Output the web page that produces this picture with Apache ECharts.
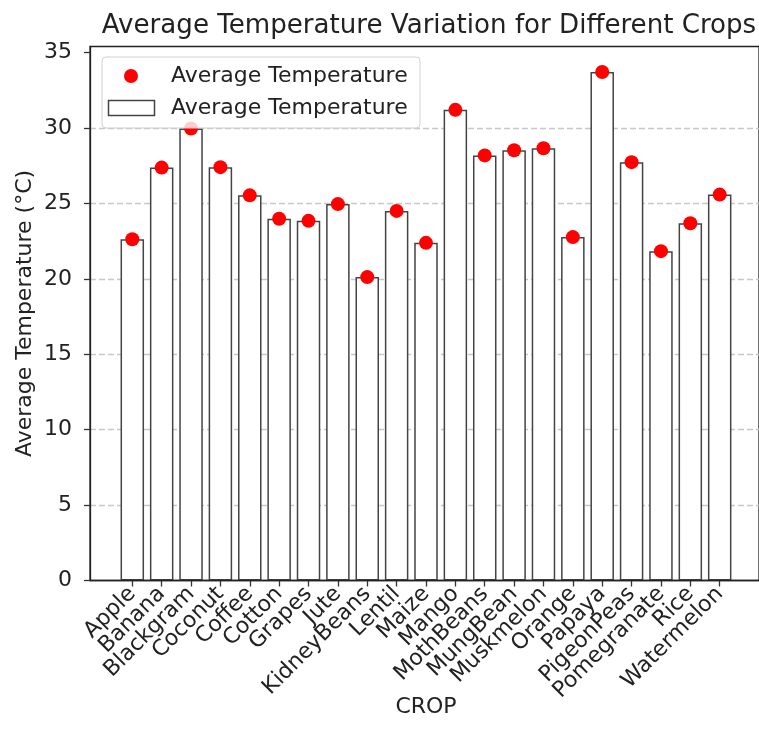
<!DOCTYPE html>
<html>
<head>
<meta charset="utf-8">
<script src="https://cdn.jsdelivr.net/npm/echarts@6/dist/echarts.min.js"></script>
<style>
html,body{margin:0;padding:0;background:#fff;}
#chart{width:759px;height:743px;}
</style>
</head>
<body>
<div id="chart"></div>
<script>
const categories = ['Apple','Banana','Blackgram','Coconut','Coffee','Cotton','Grapes','Jute','KidneyBeans','Lentil','Maize','Mango','MothBeans','MungBean','Muskmelon','Orange','Papaya','PigeonPeas','Pomegranate','Rice','Watermelon'];
const avgTemp = [22.63, 27.38, 29.97, 27.41, 25.54, 23.99, 23.85, 24.96, 20.12, 24.51, 22.39, 31.21, 28.19, 28.53, 28.66, 22.77, 33.72, 27.74, 21.84, 23.69, 25.59];
const yTicks = [0, 5, 10, 15, 20, 25, 30, 35];
const seriesName = 'Average Temperature';

const FONT = 'DejaVu Sans';
const TXT = '#222';
const FS = 22;
const Y_MAX = 35.41;
// layout: category band width 29.37 px; frame spans x -1.44..21.44 in category units
const BAND = 29.37;
const FRAME_LEFT = 90, TOP = 46.5, HEIGHT = 534;
const FRAME_W = 22.88 * BAND;
const CAT_LEFT = FRAME_LEFT + (1.44 - 0.5) * BAND;
const CAT_W = categories.length * BAND;

const chart = echarts.init(document.getElementById('chart'), null, {renderer: 'canvas'});
chart.setOption({
  backgroundColor: '#fff',
  animation: false,
  title: {
    text: 'Average Temperature Variation for Different Crops',
    left: 424, top: 8, textAlign: 'center',
    textStyle: {fontFamily: FONT, fontSize: 26.1, fontWeight: 'normal', color: TXT}
  },
  grid: [
    {left: CAT_LEFT, top: TOP, width: CAT_W, height: HEIGHT, show: false, containLabel: false},
    {left: FRAME_LEFT, top: TOP, width: FRAME_W, height: HEIGHT,
     show: true, borderColor: '#222', borderWidth: 1.3, backgroundColor: 'transparent', containLabel: false}
  ],
  xAxis: [
    {
      type: 'category', gridIndex: 0, data: categories, boundaryGap: true,
      name: 'CROP', nameLocation: 'middle', nameGap: 116, nameMoveOverlap: false,
      nameTextStyle: {fontFamily: FONT, fontSize: FS, color: TXT},
      axisLine: {show: false},
      axisTick: {show: true, alignWithLabel: true, interval: 0, length: 6, lineStyle: {color: '#333', width: 1.3}},
      axisLabel: {interval: 0, rotate: 45, margin: 10, hideOverlap: false,
        fontFamily: FONT, fontSize: FS, color: TXT},
      splitLine: {show: false}
    },
    {
      type: 'value', gridIndex: 1, min: 0, max: 1, show: false
    }
  ],
  yAxis: [
    {
      type: 'value', gridIndex: 0, min: 0, max: Y_MAX, show: false,
      axisLine: {show: false}, axisTick: {show: false}, axisLabel: {show: false}, splitLine: {show: false}
    },
    {
      type: 'value', gridIndex: 1, min: 0, max: Y_MAX, interval: 5,
      name: 'Average Temperature (°C)', nameLocation: 'middle', nameGap: 54, nameMoveOverlap: false,
      nameTextStyle: {fontFamily: FONT, fontSize: FS, color: TXT},
      axisLine: {show: true, onZero: false, lineStyle: {color: '#222', width: 1.3}},
      axisTick: {show: true, length: 6, lineStyle: {color: '#333', width: 1.3}, customValues: yTicks},
      axisLabel: {customValues: yTicks, margin: 18, fontFamily: FONT, fontSize: FS, color: TXT},
      splitLine: {show: true, showMinLine: false, showMaxLine: false,
        lineStyle: {color: '#c8c8c8', width: 1.3, type: [6, 3]}}
    }
  ],
  series: [
    {
      name: seriesName, type: 'bar', xAxisIndex: 0, yAxisIndex: 0, data: avgTemp, barWidth: '80%', z: 2,
      itemStyle: {color: '#fff', borderColor: '#444', borderWidth: 1.5}
    },
    {
      name: seriesName, type: 'scatter', xAxisIndex: 0, yAxisIndex: 0, data: avgTemp,
      symbol: 'circle', symbolSize: 14, z: 3,
      itemStyle: {color: '#ff0000', opacity: 1}
    }
  ],
  graphic: [
    {type: 'line', z: 5, shape: {x1: FRAME_LEFT, y1: TOP + HEIGHT, x2: FRAME_LEFT + FRAME_W, y2: TOP + HEIGHT},
     style: {stroke: '#222', lineWidth: 1.3}, silent: true},
    {type: 'rect', z: 10, shape: {x: 102, y: 57, width: 318, height: 71, r: 4},
     style: {fill: 'rgba(255,255,255,0.8)', stroke: '#d0d0d0', lineWidth: 1}},
    {type: 'circle', z: 11, shape: {cx: 131, cy: 76, r: 7}, style: {fill: '#ff0000'}},
    {type: 'rect', z: 11, shape: {x: 108.5, y: 100.5, width: 46, height: 15},
     style: {fill: '#fff', stroke: '#444', lineWidth: 1.5}},
    {type: 'text', z: 11, x: 171, y: 76,
     style: {text: seriesName, font: FS + 'px "DejaVu Sans"', fill: TXT, verticalAlign: 'middle', align: 'left'}},
    {type: 'text', z: 11, x: 171, y: 108,
     style: {text: seriesName, font: FS + 'px "DejaVu Sans"', fill: TXT, verticalAlign: 'middle', align: 'left'}}
  ]
});
</script>
</body>
</html>
